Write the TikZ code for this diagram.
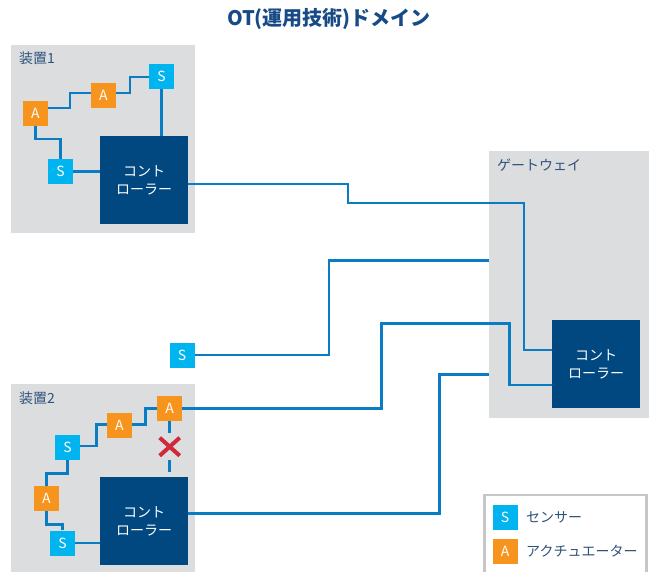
\documentclass[tikz,border=0pt]{standalone}
\usepackage{fontspec}
\setmainfont{Noto Sans CJK JP}
\definecolor{devbg}{HTML}{DCDDDF}
\definecolor{ctrlblue}{HTML}{00487F}
\definecolor{sensblue}{HTML}{00B4EF}
\definecolor{actorange}{HTML}{F7941D}
\definecolor{wireblue}{HTML}{0A7CC4}
\definecolor{labelblue}{HTML}{2F527C}
\definecolor{titleblue}{HTML}{174A86}
\definecolor{xred}{HTML}{D0293B}
\definecolor{legendgray}{HTML}{C6C6CA}
\tikzset{
  zone/.style={fill=devbg, draw=none, inner sep=0pt},
  zonelabel/.style={anchor=west, text=labelblue, font=\fontsize{14}{16}\selectfont, inner sep=0pt},
  sensor/.style={fill=sensblue, text=white, minimum size=25pt, inner sep=0pt, font=\fontsize{14}{16}\selectfont},
  actuator/.style={fill=actorange, text=white, minimum size=25pt, inner sep=0pt, font=\fontsize{14}{16}\selectfont},
  ctrl/.style={fill=ctrlblue, text=white, minimum size=88pt, inner sep=0pt, align=center, font=\fontsize{14}{18}\selectfont},
  wire/.style={draw=wireblue, line width=2.5pt},
  crossmark/.style={draw=xred, line width=4pt},
  legtext/.style={anchor=west, text=labelblue, font=\fontsize{14}{16}\selectfont, inner sep=0pt}
}
\begin{document}
\begin{tikzpicture}[x=1pt, y=-1pt]
\useasboundingbox (0,0) rectangle (656,572);
\clip (0,0) rectangle (656,572);

% title
\node[text=titleblue, font=\bfseries\fontsize{20}{23}\selectfont, inner sep=0pt] (title) at (329,19) {OT(運用技術)ドメイン};

% zones
\node[zone, minimum width=184pt, minimum height=188pt] (dev1) at (103,139) {};
\node[zone, minimum width=184pt, minimum height=196pt] (dev2) at (103,482) {};
\node[zone, minimum width=160pt, minimum height=267pt] (gw) at (569,284.5) {};
\node[zonelabel] (dev1lbl) at (19,58) {装置1};
\node[zonelabel] (dev2lbl) at (19,398) {装置2};
\node[zonelabel] (gwlbl) at (497,165) {ゲートウェイ};

% device 1
\node[sensor] (d1s1) at (161.5,76.5) {S};
\node[actuator] (d1a2) at (103.5,95.5) {A};
\node[actuator] (d1a1) at (35.5,113.5) {A};
\node[sensor] (d1s2) at (60.5,171.5) {S};
\node[ctrl] (d1c) at (144,180) {コント\\ローラー};

% device 2
\node[actuator] (d2a3) at (169.7,408.3) {A};
\node[actuator] (d2a2) at (119.5,425.7) {A};
\node[sensor] (d2s1) at (67.5,447.5) {S};
\node[actuator] (d2a1) at (46.5,498.5) {A};
\node[sensor] (d2s2) at (62.5,543) {S};
\node[ctrl] (d2c) at (144,521) {コント\\ローラー};

% standalone sensor
\node[sensor] (s0) at (182,355) {S};

% gateway controller
\node[ctrl] (gwc) at (596,364) {コント\\ローラー};

% device 1 wiring
\draw[wire] (d1a1.east |- 0,108) -- (70,108) |- (d1a2.west |- 0,93);
\draw[wire] (d1a2.east |- 0,93) -- (130,93) |- (d1s1.west |- 0,77);
\draw[wire] (d1s1.south) -- (d1s1.south |- d1c.north);
\draw[wire] (d1a1.south) |- (60.5,139) -- (d1s2.north);
\draw[wire] (d1s2.east) -- (d1c.west |- d1s2.east);
\draw[wire] (d1c.east |- 0,184) -- (348,184) -- (348,203) -- (524,203) |- (gwc.west |- 0,350);

% standalone sensor wiring
\draw[wire] (s0.east) -- (329,355) |- (gw.west |- 0,260.5);

% device 2 wiring
\draw[wire] (d2s1.east |- 0,446) -- (96.7,446) |- (d2a2.west |- 0,424.3);
\draw[wire] (d2a2.east |- 0,424.3) -- (145.7,424.3) |- (d2a3.west);
\draw[wire] (d2a3.east) -- (381.7,408.3) -- (381.7,323.3) -- (509.3,323.3) |- (gwc.west |- 0,385);
\draw[wire] (d2s1.south) |- (46.5,473.3) -- (d2a1.north);
\draw[wire] (d2a1.south) |- (62.5,524.3) -- (d2s2.north);
\draw[wire] (d2s2.east) -- (d2c.west |- d2s2.east);
\draw[wire] (d2c.east |- 0,513.3) -- (439.3,513.3) -- (439.3,374.3) -- (gw.west |- 0,374.3);

% broken link with cross
\coordinate (brk1) at (169.7,433);
\coordinate (brk2) at (169.7,460);
\coordinate (brk3) at (169.7,472);
\draw[wire] (d2a3.south) -- (brk1);
\draw[wire] (brk2) -- (brk3);
\coordinate (xc) at (169.7,446.7);
\draw[crossmark] ([xshift=-10pt,yshift=9pt]xc) -- ([xshift=10pt,yshift=-9pt]xc);
\draw[crossmark] ([xshift=-10pt,yshift=-9pt]xc) -- ([xshift=10pt,yshift=9pt]xc);

% legend
\node[draw=legendgray, line width=2.5pt, fill=white, minimum width=162pt, minimum height=110pt, inner sep=0pt] (legend) at (565.5,550) {};
\node[sensor] (ls) at (505,517) {S};
\node[actuator] (la) at (505,551) {A};
\node[legtext] (lstext) at (526,517) {センサー};
\node[legtext] (latext) at (526,551) {アクチュエーター};
\end{tikzpicture}
\end{document}
